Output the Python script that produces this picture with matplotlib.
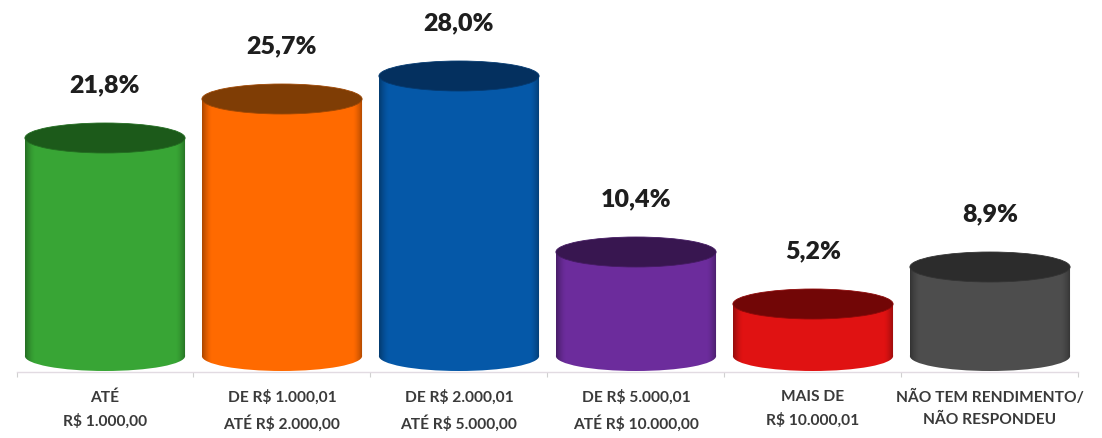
import numpy as np
import matplotlib
matplotlib.use('Agg')
import matplotlib.pyplot as plt
from matplotlib.patches import Ellipse, PathPatch
from matplotlib.path import Path
from matplotlib.colors import to_rgb

categories = ['ATÉ\nR$ 1.000,00', 'DE R$ 1.000,01\nATÉ R$ 2.000,00', 'DE R$ 2.000,01\nATÉ R$ 5.000,00',
              'DE R$ 5.000,01\nATÉ R$ 10.000,00', 'MAIS DE\nR$ 10.000,01', 'NÃO TEM RENDIMENTO/\nNÃO RESPONDEU']
values = [21.8, 25.7, 28.0, 10.4, 5.2, 8.9]
labels = ['21,8%', '25,7%', '28,0%', '10,4%', '5,2%', '8,9%']
side_colors = ['#38a535', '#ff6a00', '#0558a8', '#6c2c9c', '#e01212', '#4d4d4d']
top_colors = ['#1c5a1a', '#7f3d05', '#04305f', '#381650', '#720606', '#2c2c2c']

plt.rcParams['font.family'] = ['Lato', 'DejaVu Sans']

fig = plt.figure(figsize=(11.02, 4.38), dpi=100)
ax = fig.add_axes([0, 0, 1, 1])

# one data unit is 10 px, one category is 177 px
bar_width = 0.905
ry = 1.5
x = np.arange(len(values))

ax.bar(x, values, width=bar_width, color=side_colors, linewidth=0, zorder=2)

# dark edge of the cylinder side, as a transparent black gradient
shade = np.linspace(-1, 1, 161)
alpha = np.clip((np.abs(shade) - 0.88) / 0.12, 0, 1) ** 1.5 * 0.32
overlay = np.zeros((1, 161, 4))
overlay[0, :, 3] = alpha

for i, v in enumerate(values):
    ax.add_patch(Ellipse((i, 0), bar_width, ry * 2, color=side_colors[i], linewidth=0, zorder=2))

    # outline of side plus rounded bottom, for clipping the shade
    t = np.linspace(np.pi, 2 * np.pi, 40)
    px = i + bar_width / 2 * np.cos(t)
    py = ry * np.sin(t)
    verts = list(zip(px, py)) + [(i + bar_width / 2, v), (i - bar_width / 2, v), (i - bar_width / 2, 0)]
    codes = [Path.MOVETO] + [Path.LINETO] * (len(verts) - 2) + [Path.CLOSEPOLY]
    clip = PathPatch(Path(verts, codes), transform=ax.transData, facecolor='none', edgecolor='none')
    ax.add_patch(clip)
    im = ax.imshow(overlay, extent=(i - bar_width / 2, i + bar_width / 2, -ry, v), aspect='auto', zorder=3,
                   interpolation='bilinear')
    im.set_clip_path(clip)

    # top face, the rim is only a slight lighter blur
    rim = tuple(0.25 * c + 0.75 * d for c, d in zip(to_rgb(side_colors[i]), to_rgb(top_colors[i])))
    ax.add_patch(Ellipse((i, v), bar_width, ry * 2, facecolor=top_colors[i], edgecolor=rim,
                         linewidth=0.6, zorder=4))
    ax.text(i, v + 5.3, labels[i], ha='center', va='center', fontsize=18, fontweight='heavy',
            color='#1e1e1e')

ax.set_xlim(-105 / 177, (1102 - 105) / 177)
ax.set_ylim(-8.2, 35.6)

for name in ['top', 'left', 'right']:
    ax.spines[name].set_visible(False)
ax.spines['bottom'].set_position(('data', -1.6))
ax.spines['bottom'].set_bounds(-0.5, 5.5)
ax.spines['bottom'].set_color('#e2dbe2')
ax.spines['bottom'].set_linewidth(1.0)
ax.yaxis.set_visible(False)

ax.set_xticks(np.arange(len(values) + 1) - 0.5)
ax.set_xticklabels([])
ax.tick_params(axis='x', which='major', length=3.5, width=0.8, color='#d0d0d0')
ax.set_xticks(x, minor=True)
ax.set_xticklabels(categories, minor=True, fontsize=11.2, fontweight='bold', color='#3a3a3a', linespacing=1.7)
ax.tick_params(axis='x', which='minor', length=0, pad=13)

fig.savefig('out.png', dpi=100)
